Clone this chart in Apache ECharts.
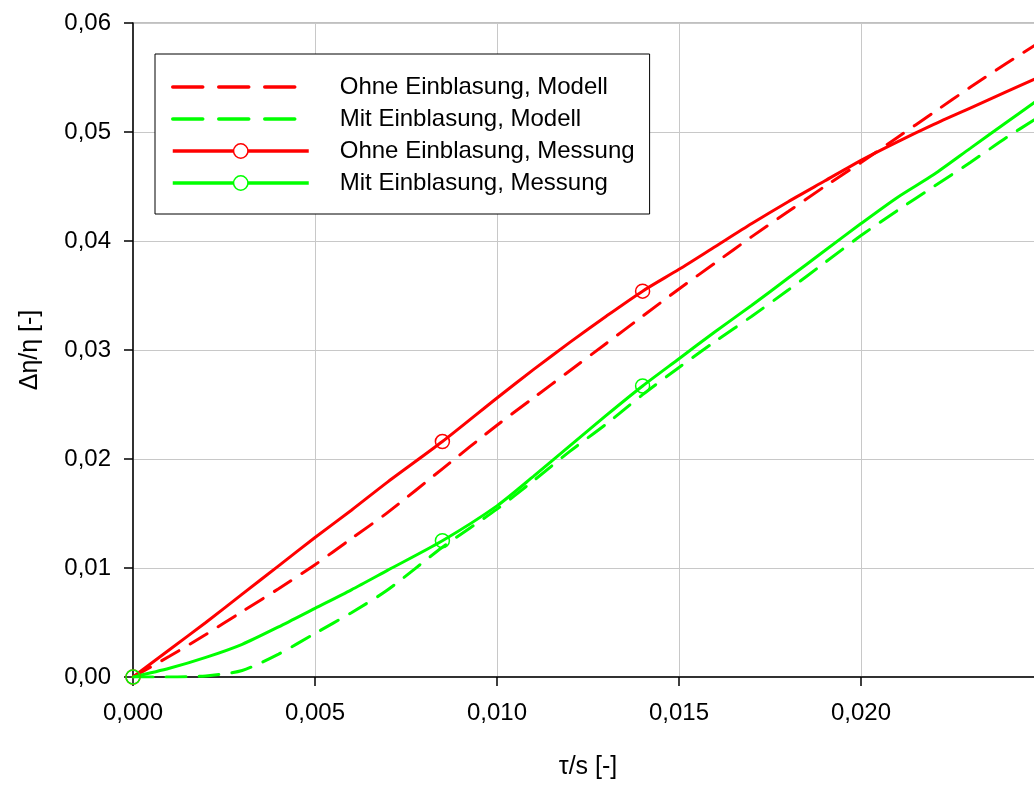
<!DOCTYPE html>
<html><head><meta charset="utf-8">
<script src="https://cdn.jsdelivr.net/npm/echarts@6/dist/echarts.min.js"></script>
<style>html,body{margin:0;padding:0;background:#fff;overflow:hidden;width:1034px;height:787px}#c{width:1043px;height:787px}</style>
</head><body><div id="c"></div>
<script>
// x positions (tau/s)
const xs = [0, 0.001, 0.002, 0.003, 0.004, 0.005, 0.006, 0.007, 0.0085, 0.010, 0.011, 0.012, 0.013, 0.014, 0.015, 0.016, 0.017, 0.018, 0.019, 0.020, 0.021, 0.022, 0.023, 0.024, 0.0248];
const ohneModell = [0, 0.0019, 0.0039, 0.0060, 0.0081, 0.0103, 0.0127, 0.0151, 0.0191, 0.0231, 0.0256, 0.0281, 0.0306, 0.0331, 0.0356, 0.0380, 0.0404, 0.0427, 0.0450, 0.0472, 0.0495, 0.0518, 0.0541, 0.0563, 0.0580];
const mitModell = [0, 0, 0.0001, 0.0006, 0.0021, 0.0040, 0.0059, 0.0080, 0.0119, 0.0154, 0.0180, 0.0207, 0.0232, 0.0259, 0.0284, 0.0308, 0.0331, 0.0355, 0.0380, 0.0405, 0.0428, 0.0450, 0.0472, 0.0495, 0.0512];
const ohneMessung = [0, 0.0025, 0.0050, 0.0076, 0.0102, 0.0128, 0.0153, 0.0179, 0.0216, 0.0256, 0.0282, 0.0307, 0.0331, 0.0354, 0.0374, 0.0395, 0.0416, 0.0436, 0.0455, 0.0474, 0.0491, 0.0507, 0.0522, 0.0537, 0.0549];
const mitMessung = [0, 0.0008, 0.0018, 0.0030, 0.0046, 0.0063, 0.0080, 0.0098, 0.0125, 0.0157, 0.0184, 0.0212, 0.0240, 0.0267, 0.0292, 0.0317, 0.0341, 0.0366, 0.0391, 0.0416, 0.0440, 0.0461, 0.0485, 0.0509, 0.0528];
// x positions where measurement markers are shown
const markerXs = [0, 0.0085, 0.014];
const names = ['Ohne Einblasung, Modell', 'Mit Einblasung, Modell', 'Ohne Einblasung, Messung', 'Mit Einblasung, Messung'];

const RED = '#ff0000', GREEN = '#00ff00';
const FONT = 'Liberation Sans, Arial, sans-serif';

function pairs(ys) { return xs.map((x, i) => [x, ys[i]]); }
function pairsMarked(ys) {
  return xs.map((x, i) => markerXs.indexOf(x) >= 0 ? { value: [x, ys[i]] } : { value: [x, ys[i]], symbol: 'none' });
}
function modelSeries(name, ys, color) {
  return { name, type: 'line', data: pairs(ys), symbol: 'none', smooth: 0.25,
    lineStyle: { color, width: 3, type: [20, 13], cap: 'round' }, itemStyle: { color }, z: 2 };
}
function measSeries(name, ys, color) {
  return { name, type: 'line', data: pairsMarked(ys), symbol: 'circle', symbolSize: 14, showAllSymbol: true,
    smooth: 0.25,
    lineStyle: { color, width: 3 },
    itemStyle: { color: 'rgba(255,255,255,0)', borderColor: color, borderWidth: 1.5 }, z: 3 };
}

const chart = echarts.init(document.getElementById('c'), null, { renderer: 'canvas' });
chart.setOption({
  animation: false,
  backgroundColor: '#fff',
  textStyle: { fontFamily: FONT },
  grid: { left: 133, top: 23, bottom: 110, right: 0, show: true, borderColor: '#808080', borderWidth: 1, backgroundColor: 'transparent' },
  legend: {
    orient: 'vertical', left: 155, top: 54,
    data: [
      { name: names[0], itemStyle: { opacity: 0 }, lineStyle: { color: RED, width: 3.5, type: [30, 16], cap: 'round' } },
      { name: names[1], itemStyle: { opacity: 0 }, lineStyle: { color: GREEN, width: 3.5, type: [30, 16], cap: 'round' } },
      { name: names[2], itemStyle: { color: '#fff', borderColor: RED, borderWidth: 1.5 }, lineStyle: { color: RED, width: 3.5 } },
      { name: names[3], itemStyle: { color: '#fff', borderColor: GREEN, borderWidth: 1.5 }, lineStyle: { color: GREEN, width: 3.5 } }
    ],
    backgroundColor: '#fff', borderColor: '#000', borderWidth: 1,
    padding: [21, 15, 19, 16],
    itemWidth: 136, itemHeight: 18, itemGap: 8,
    textStyle: { fontSize: 24, color: '#000', fontFamily: FONT, lineHeight: 24, padding: [0, 0, 0, 26] }
  },
  xAxis: {
    type: 'value', min: 0, max: 0.025, interval: 0.005,
    name: 'τ/s [-]', nameLocation: 'middle', nameGap: 78,
    nameTextStyle: { fontSize: 25, color: '#000', fontFamily: FONT },
    axisLine: { show: true, lineStyle: { color: '#000', width: 1.5 } },
    axisTick: { show: true, length: 9, lineStyle: { color: '#000', width: 1.5 } },
    axisLabel: { show: true, showMaxLabel: false, margin: 24, fontSize: 24, color: '#000', fontFamily: FONT,
      formatter: v => v.toFixed(3).replace('.', ',') },
    splitLine: { show: true, lineStyle: { color: '#c8c8c8', width: 1 } }
  },
  yAxis: {
    type: 'value', min: 0, max: 0.06, interval: 0.01,
    name: 'Δη/η [-]', nameLocation: 'middle', nameGap: 90, nameRotate: 90,
    nameTextStyle: { fontSize: 25, color: '#000', fontFamily: FONT },
    axisLine: { show: true, lineStyle: { color: '#000', width: 1.5 } },
    axisTick: { show: true, length: 9, lineStyle: { color: '#000', width: 1.5 } },
    axisLabel: { margin: 22, fontSize: 24, color: '#000', fontFamily: FONT,
      formatter: v => v.toFixed(2).replace('.', ',') },
    splitLine: { show: true, lineStyle: { color: '#c8c8c8', width: 1 } }
  },
  series: [
    modelSeries(names[0], ohneModell, RED),
    modelSeries(names[1], mitModell, GREEN),
    measSeries(names[2], ohneMessung, RED),
    measSeries(names[3], mitMessung, GREEN)
  ]
});
</script>
</body></html>
